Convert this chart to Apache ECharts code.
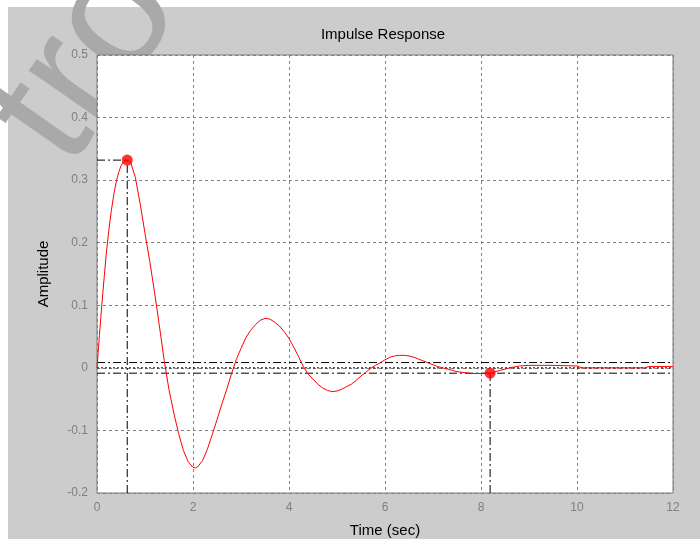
<!DOCTYPE html>
<html>
<head>
<meta charset="utf-8">
<script src="https://cdn.jsdelivr.net/npm/echarts@6/dist/echarts.min.js"></script>
<style>
html,body{margin:0;padding:0;background:#fff;}
#chart{width:700px;height:539px;}
</style>
</head>
<body>
<div id="chart"></div>
<script>
// Impulse response
var times = [0, 0.05, 0.1, 0.15, 0.2, 0.25, 0.3, 0.35, 0.4, 0.45, 0.5, 0.55, 0.63, 0.7, 0.8, 0.9, 1.0, 1.1, 1.2, 1.3, 1.4, 1.5, 1.6, 1.7, 1.8, 1.9, 2.0, 2.05, 2.1, 2.2, 2.3, 2.4, 2.5, 2.6, 2.7, 2.8, 2.9, 3.0, 3.1, 3.2, 3.3, 3.4, 3.5, 3.6, 3.7, 3.8, 3.9, 4.0, 4.1, 4.2, 4.3, 4.4, 4.5, 4.6, 4.7, 4.8, 4.9, 5.0, 5.1, 5.2, 5.3, 5.4, 5.5, 5.6, 5.7, 5.8, 5.9, 6.0, 6.1, 6.2, 6.3, 6.4, 6.5, 6.6, 6.7, 6.8, 6.9, 7.0, 7.1, 7.2, 7.3, 7.4, 7.5, 7.6, 7.8, 8.0, 8.2, 8.4, 8.6, 8.8, 9.0, 9.5, 10.0, 10.1, 11.4, 11.5, 12.0];
var amplitude = [0.0, 0.052, 0.10, 0.145, 0.188, 0.222, 0.252, 0.277, 0.297, 0.312, 0.323, 0.329, 0.332, 0.329, 0.304, 0.262, 0.215, 0.170, 0.120, 0.067, 0.012, -0.035, -0.072, -0.105, -0.132, -0.150, -0.159, -0.160, -0.158, -0.148, -0.130, -0.107, -0.083, -0.058, -0.035, -0.010, 0.013, 0.031, 0.048, 0.060, 0.069, 0.076, 0.079, 0.078, 0.073, 0.067, 0.058, 0.047, 0.033, 0.018, 0.002, -0.010, -0.018, -0.026, -0.032, -0.036, -0.038, -0.037, -0.034, -0.030, -0.026, -0.020, -0.013, -0.007, -0.001, 0.004, 0.008, 0.013, 0.017, 0.019, 0.020, 0.020, 0.019, 0.017, 0.014, 0.011, 0.008, 0.005, 0.002, 0.000, -0.002, -0.004, -0.006, -0.007, -0.009, -0.009, -0.008, -0.004, 0.000, 0.003, 0.004, 0.004, 0.003, 0.0, 0.0, 0.002, 0.002];

// characteristic points
var peakTime = 0.63, peakAmp = 0.332;
var settleTime = 8.19, settleAmp = -0.0085;
var settleBand = 0.0085;

// axes
var xMin = 0, xMax = 12, xStep = 2;
var yMin = -0.2, yMax = 0.5, yStep = 0.1;

var titleText = 'Impulse Response';
var xName = 'Time (sec)';
var yName = 'Amplitude';
var watermarkText = 'tro';

var curve = times.map(function (t, i) { return [t, amplitude[i]]; });
var dashDot = [8, 3, 2, 3];
function refLine(pts, type) {
  return {
    type: 'line', data: pts, symbol: 'none', silent: true, z: 3,
    lineStyle: { color: '#000', width: 1, type: type }
  };
}
var narrow = '"Liberation Sans Narrow", "Liberation Sans", Arial, sans-serif';

var chart = echarts.init(document.getElementById('chart'), null, { renderer: 'canvas' });
chart.setOption({
  backgroundColor: '#ffffff',
  animation: false,
  graphic: [
    { type: 'rect', shape: { x: 8, y: 7, width: 692, height: 532 }, style: { fill: '#cccccc' }, z: -20, silent: true },
    { type: 'text', x: 100, y: 192, rotation: 55 * Math.PI / 180, z: -10, silent: true,
      style: { text: watermarkText, fill: '#a9a9a9', font: '170px "Liberation Sans", Arial, sans-serif', verticalAlign: 'bottom', align: 'left' } },
    { type: 'text', x: 383, y: 35, z: 10, silent: true,
      style: { text: titleText, fill: '#000', font: '15px ' + narrow, align: 'center', verticalAlign: 'middle' } }
  ],
  grid: {
    left: 97, right: 27, top: 55, bottom: 46, show: true, outerBoundsMode: 'none', containLabel: false,
    backgroundColor: '#ffffff', borderColor: '#7a7a7a', borderWidth: 1, z: 0
  },
  xAxis: {
    type: 'value', min: xMin, max: xMax, interval: xStep,
    name: xName, nameLocation: 'middle', nameGap: 30,
    nameTextStyle: { fontFamily: narrow, fontSize: 15, color: '#000' },
    axisLine: { show: false }, axisTick: { show: false },
    axisLabel: { color: '#7b8089', fontSize: 12, fontFamily: '"Liberation Sans", Arial', margin: 9 },
    splitLine: { show: true, lineStyle: { color: '#808080', type: [3, 3], width: 1 } }
  },
  yAxis: {
    type: 'value', min: yMin, max: yMax, interval: yStep,
    name: yName, nameLocation: 'middle', nameGap: 46, nameRotate: 90,
    nameTextStyle: { fontFamily: narrow, fontSize: 15, color: '#000' },
    axisLine: { show: false }, axisTick: { show: false },
    axisLabel: { color: '#7b8089', fontSize: 12, fontFamily: '"Liberation Sans", Arial', margin: 9,
      formatter: function (v) { var r = Math.round(v * 10) / 10; return r === 0 ? '0' : r.toFixed(1); } },
    splitLine: { show: true, lineStyle: { color: '#808080', type: [3, 3], width: 1 } }
  },
  series: [
    refLine([[xMin, 0], [xMax, 0]], [2, 2]),
    refLine([[xMin, settleBand], [xMax, settleBand]], dashDot),
    refLine([[xMin, -settleBand], [xMax, -settleBand]], dashDot),
    refLine([[xMin, peakAmp], [peakTime, peakAmp]], dashDot),
    refLine([[peakTime, yMin], [peakTime, peakAmp]], dashDot),
    refLine([[settleTime, yMin], [settleTime, settleAmp]], dashDot),
    {
      type: 'line', data: curve, symbol: 'none', z: 5,
      lineStyle: { color: '#ff0000', width: 1 }
    },
    {
      type: 'scatter', data: [[peakTime, peakAmp], [settleTime, settleAmp]],
      symbol: 'circle', symbolSize: 11, z: 6,
      itemStyle: { color: '#ff0000' }
    }
  ]
});
</script>
</body>
</html>
